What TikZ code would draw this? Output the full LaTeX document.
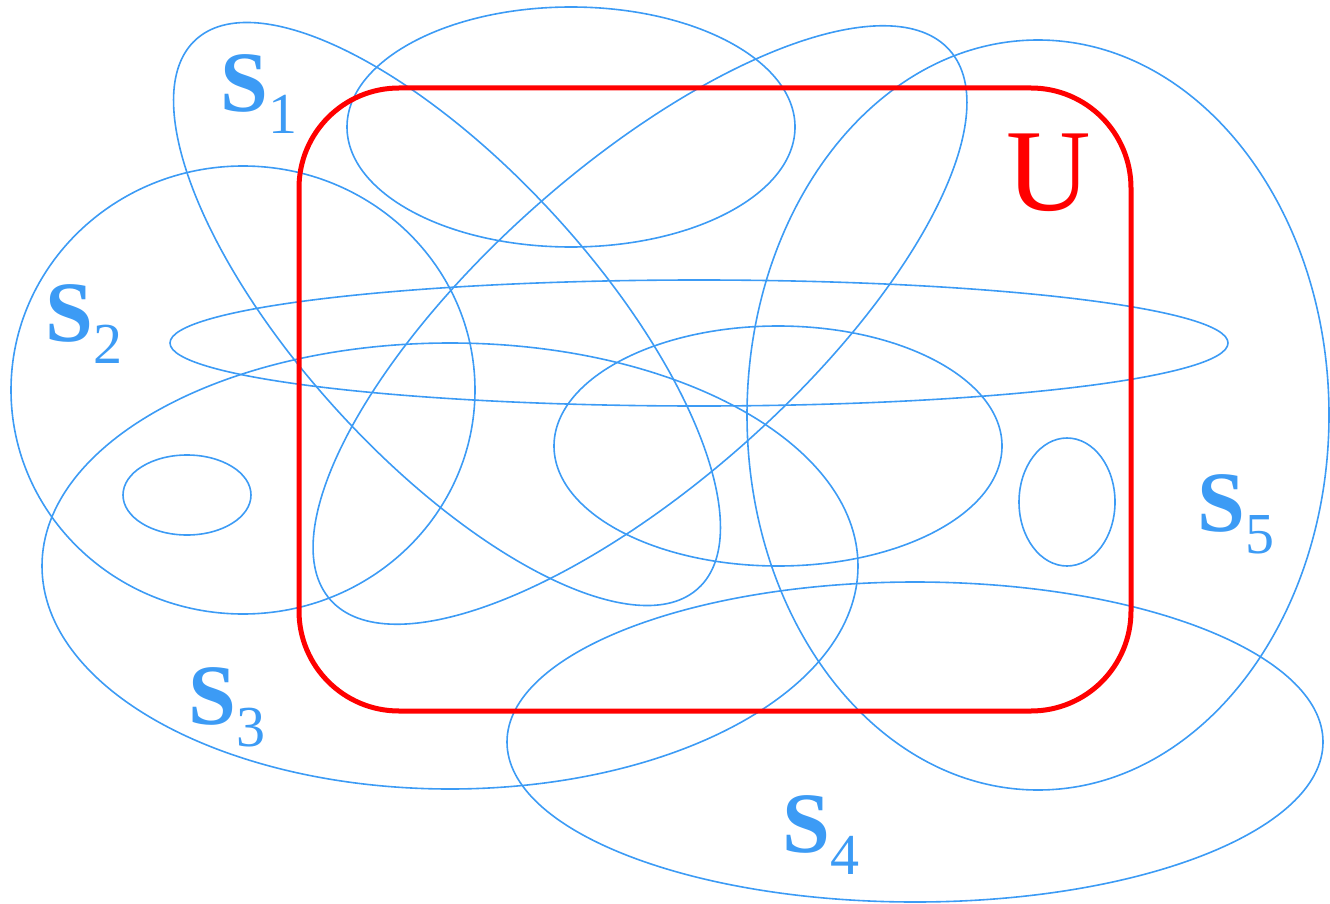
\documentclass[tikz,border=0pt]{standalone}
\usepackage{fontspec}
\setmainfont{Liberation Serif}
\definecolor{setblue}{RGB}{60,155,245}
\definecolor{unired}{RGB}{255,0,0}
\newcommand{\setlabel}[1]{{\fontsize{86}{86}\selectfont\bfseries S}{\fontsize{58}{58}\selectfont\raisebox{-22pt}{#1}}}
\begin{document}
\begin{tikzpicture}[x=1pt,y=-1pt,
  setline/.style={draw=setblue, line width=1.6pt},
  universe/.style={draw=unired, line width=5pt, rounded corners=100pt},
  setname/.style={anchor=base west, inner sep=0pt, text=setblue}]
\useasboundingbox (0,0) rectangle (1330,904);
% sets
\draw[setline] (571,127) ellipse [x radius=224, y radius=120];
\draw[setline] (699,343) ellipse [x radius=529, y radius=63];
\draw[setline] (243,390) ellipse [x radius=232, y radius=224];
\draw[setline] (187,495) ellipse [x radius=64, y radius=40];
\draw[setline] (778,446) ellipse [x radius=224, y radius=120];
\draw[setline] (1067,502) ellipse [x radius=48, y radius=64];
\draw[setline] (450,566) ellipse [x radius=408, y radius=223];
\draw[setline] (915,742) ellipse [x radius=408, y radius=160];
\draw[setline] (1038,415) ellipse [x radius=291, y radius=375];
\draw[setline, shift={(447,314)}, rotate=-47.5] (0,0) ellipse [x radius=372, y radius=146];
\draw[setline, shift={(640,325)}, rotate=41.6] (0,0) ellipse [x radius=414, y radius=158];
% universe
\draw[universe] (299,88) rectangle (1131,711);
\node[anchor=base west, inner sep=0pt, text=unired] (u) at (1006,211) {\fontsize{117}{117}\selectfont U};
% labels
\node[setname] (s1) at (220,112) {\setlabel{1}};
\node[setname] (s2) at (45,341) {\setlabel{2}};
\node[setname] (s3) at (188,724) {\setlabel{3}};
\node[setname] (s4) at (782,852) {\setlabel{4}};
\node[setname] (s5) at (1197,531) {\setlabel{5}};
\end{tikzpicture}
\end{document}
